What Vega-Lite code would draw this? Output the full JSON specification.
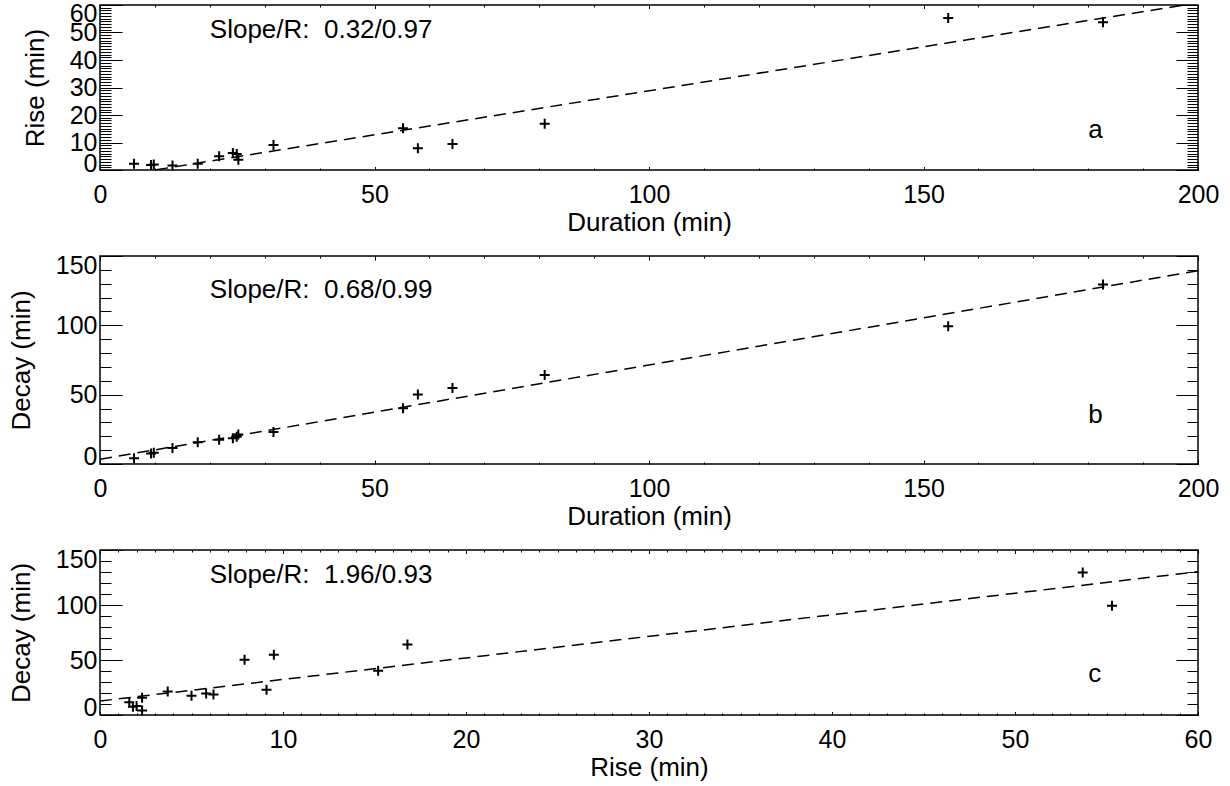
{
  "$schema": "https://vega.github.io/schema/vega-lite/v6.json",
  "background": "white",
  "padding": {"left": 7, "top": 0, "right": 0, "bottom": 0},
  "bounds": "flush",
  "spacing": 86,
  "datasets": {
    "events": [
      {"duration": 6.2, "rise": 2.3, "decay": 4.2},
      {"duration": 9.3, "rise": 1.8, "decay": 7.5},
      {"duration": 9.8, "rise": 2.0, "decay": 8.1},
      {"duration": 13.2, "rise": 1.6, "decay": 11.6},
      {"duration": 17.8, "rise": 2.3, "decay": 15.7},
      {"duration": 21.7, "rise": 5.0, "decay": 17.5},
      {"duration": 24.2, "rise": 6.2, "decay": 18.6},
      {"duration": 24.9, "rise": 5.8, "decay": 19.6},
      {"duration": 25.2, "rise": 3.7, "decay": 21.3},
      {"duration": 31.6, "rise": 9.1, "decay": 23.0},
      {"duration": 55.2, "rise": 15.2, "decay": 40.2},
      {"duration": 57.9, "rise": 7.9, "decay": 50.2},
      {"duration": 64.2, "rise": 9.5, "decay": 54.8},
      {"duration": 81.0, "rise": 16.8, "decay": 64.1},
      {"duration": 154.5, "rise": 55.3, "decay": 99.3},
      {"duration": 182.7, "rise": 53.7, "decay": 129.5}
    ],
    "fit_a": [{"x": 0, "y": -3.2}, {"x": 200, "y": 60.8}],
    "fit_b": [{"x": 0, "y": 3.4}, {"x": 200, "y": 139.4}],
    "fit_c": [{"x": 0, "y": 12.7}, {"x": 60, "y": 130.3}],
    "notes_a": [{"x": 20, "y": 47.9, "label": "Slope/R:\u00a0 0.32/0.97"}, {"x": 180, "y": 11.8, "label": "a"}],
    "notes_b": [{"x": 20, "y": 119.6, "label": "Slope/R:\u00a0 0.68/0.99"}, {"x": 180, "y": 29.7, "label": "b"}],
    "notes_c": [{"x": 6.0, "y": 119.7, "label": "Slope/R:\u00a0 1.96/0.93"}, {"x": 54.0, "y": 30, "label": "c"}]
  },
  "vconcat": [
    {
      "width": 1098,
      "height": 165,
      "resolve": {"axis": {"x": "independent", "y": "independent"}},
      "layer": [
        {
          "data": {"name": "events"},
          "mark": {"type": "point", "shape": "M-1,0H1M0,-1V1", "size": 100, "filled": false, "stroke": "black", "strokeWidth": 2, "opacity": 1},
          "encoding": {
            "x": {"field": "duration", "type": "quantitative", "scale": {"domain": [0, 200], "nice": false},
              "axis": {"orient": "bottom", "values": [0, 50, 100, 150, 200], "ticks": false, "labelFlush": false, "labelPadding": 12, "title": "Duration (min)", "titlePadding": 2}},
            "y": {"field": "rise", "type": "quantitative", "scale": {"domain": [0, 60], "nice": false},
              "axis": {"orient": "left", "values": [0, 10, 20, 30, 40, 50, 60], "ticks": false, "labelFlush": false, "labelPadding": 3, "title": "Rise (min)", "titlePadding": 21,
                "labelOffset": {"condition": [{"test": "datum.value === 0", "value": -7}, {"test": "datum.value === 60", "value": 8.5}], "value": 0}}}
          }
        },
        {
          "data": {"name": "fit_a"},
          "mark": {"type": "line", "color": "black", "strokeWidth": 1.5, "strokeDash": [12, 7], "clip": true},
          "encoding": {
            "x": {"field": "x", "type": "quantitative", "scale": {"domain": [0, 200], "nice": false},
              "axis": {"orient": "bottom", "labels": false, "title": null, "values": [0, 10, 20, 30, 40, 50, 60, 70, 80, 90, 100, 110, 120, 130, 140, 150, 160, 170, 180, 190, 200],
                "tickSize": {"condition": {"test": "datum.value % 50 === 0", "value": -3.5}, "value": -2}}},
            "y": {"field": "y", "type": "quantitative", "scale": {"domain": [0, 60], "nice": false},
              "axis": {"orient": "left", "labels": false, "title": null, "values": [0, 1, 2, 3, 4, 5, 6, 7, 8, 9, 10, 11, 12, 13, 14, 15, 16, 17, 18, 19, 20, 21, 22, 23, 24, 25, 26, 27, 28, 29, 30, 31, 32, 33, 34, 35, 36, 37, 38, 39, 40, 41, 42, 43, 44, 45, 46, 47, 48, 49, 50, 51, 52, 53, 54, 55, 56, 57, 58, 59, 60],
                "tickSize": {"condition": {"test": "datum.value % 10 === 0", "value": -22}, "value": -11}}}
          }
        },
        {
          "data": {"name": "notes_a"},
          "mark": {"type": "text", "align": "left", "baseline": "alphabetic", "fontSize": 26, "font": "Liberation Sans", "color": "black"},
          "encoding": {
            "x": {"field": "x", "type": "quantitative", "scale": {"domain": [0, 200], "nice": false},
              "axis": {"orient": "top", "labels": false, "title": null, "values": [0, 10, 20, 30, 40, 50, 60, 70, 80, 90, 100, 110, 120, 130, 140, 150, 160, 170, 180, 190, 200],
                "tickSize": {"condition": {"test": "datum.value % 50 === 0", "value": -3.5}, "value": -2}}},
            "y": {"field": "y", "type": "quantitative", "scale": {"domain": [0, 60], "nice": false},
              "axis": {"orient": "right", "labels": false, "title": null, "values": [0, 1, 2, 3, 4, 5, 6, 7, 8, 9, 10, 11, 12, 13, 14, 15, 16, 17, 18, 19, 20, 21, 22, 23, 24, 25, 26, 27, 28, 29, 30, 31, 32, 33, 34, 35, 36, 37, 38, 39, 40, 41, 42, 43, 44, 45, 46, 47, 48, 49, 50, 51, 52, 53, 54, 55, 56, 57, 58, 59, 60],
                "tickSize": {"condition": {"test": "datum.value % 10 === 0", "value": -22}, "value": -11}}},
            "text": {"field": "label"}
          }
        }
      ]
    },
    {
      "width": 1098,
      "height": 208,
      "resolve": {"axis": {"x": "independent", "y": "independent"}},
      "layer": [
        {
          "data": {"name": "events"},
          "mark": {"type": "point", "shape": "M-1,0H1M0,-1V1", "size": 100, "filled": false, "stroke": "black", "strokeWidth": 2, "opacity": 1},
          "encoding": {
            "x": {"field": "duration", "type": "quantitative", "scale": {"domain": [0, 200], "nice": false},
              "axis": {"orient": "bottom", "values": [0, 50, 100, 150, 200], "ticks": false, "labelFlush": false, "labelPadding": 12, "title": "Duration (min)", "titlePadding": 2}},
            "y": {"field": "decay", "type": "quantitative", "scale": {"domain": [0, 150], "nice": false},
              "axis": {"orient": "left", "values": [0, 50, 100, 150], "ticks": false, "labelFlush": false, "labelPadding": 3, "title": "Decay (min)", "titlePadding": 21,
                "labelOffset": {"condition": [{"test": "datum.value === 0", "value": -8}, {"test": "datum.value === 150", "value": 9}], "value": 0}}}
          }
        },
        {
          "data": {"name": "fit_b"},
          "mark": {"type": "line", "color": "black", "strokeWidth": 1.5, "strokeDash": [12, 7], "clip": true},
          "encoding": {
            "x": {"field": "x", "type": "quantitative", "scale": {"domain": [0, 200], "nice": false},
              "axis": {"orient": "bottom", "labels": false, "title": null, "values": [0, 10, 20, 30, 40, 50, 60, 70, 80, 90, 100, 110, 120, 130, 140, 150, 160, 170, 180, 190, 200],
                "tickSize": {"condition": {"test": "datum.value % 50 === 0", "value": -4}, "value": -2}}},
            "y": {"field": "y", "type": "quantitative", "scale": {"domain": [0, 150], "nice": false},
              "axis": {"orient": "left", "labels": false, "title": null, "values": [0, 10, 20, 30, 40, 50, 60, 70, 80, 90, 100, 110, 120, 130, 140, 150],
                "tickSize": {"condition": {"test": "datum.value % 50 === 0", "value": -22}, "value": -11}}}
          }
        },
        {
          "data": {"name": "notes_b"},
          "mark": {"type": "text", "align": "left", "baseline": "alphabetic", "fontSize": 26, "font": "Liberation Sans", "color": "black"},
          "encoding": {
            "x": {"field": "x", "type": "quantitative", "scale": {"domain": [0, 200], "nice": false},
              "axis": {"orient": "top", "labels": false, "title": null, "values": [0, 10, 20, 30, 40, 50, 60, 70, 80, 90, 100, 110, 120, 130, 140, 150, 160, 170, 180, 190, 200],
                "tickSize": {"condition": {"test": "datum.value % 50 === 0", "value": -4}, "value": -2}}},
            "y": {"field": "y", "type": "quantitative", "scale": {"domain": [0, 150], "nice": false},
              "axis": {"orient": "right", "labels": false, "title": null, "values": [0, 10, 20, 30, 40, 50, 60, 70, 80, 90, 100, 110, 120, 130, 140, 150],
                "tickSize": {"condition": {"test": "datum.value % 50 === 0", "value": -22}, "value": -11}}},
            "text": {"field": "label"}
          }
        }
      ]
    },
    {
      "width": 1098,
      "height": 165,
      "resolve": {"axis": {"x": "independent", "y": "independent"}},
      "layer": [
        {
          "data": {"name": "events"},
          "mark": {"type": "point", "shape": "M-1,0H1M0,-1V1", "size": 100, "filled": false, "stroke": "black", "strokeWidth": 2, "opacity": 1},
          "encoding": {
            "x": {"field": "rise", "type": "quantitative", "scale": {"domain": [0, 60], "nice": false},
              "axis": {"orient": "bottom", "values": [0, 10, 20, 30, 40, 50, 60], "ticks": false, "labelFlush": false, "labelPadding": 12, "title": "Rise (min)", "titlePadding": 2}},
            "y": {"field": "decay", "type": "quantitative", "scale": {"domain": [0, 150], "nice": false},
              "axis": {"orient": "left", "values": [0, 50, 100, 150], "ticks": false, "labelFlush": false, "labelPadding": 3, "title": "Decay (min)", "titlePadding": 21,
                "labelOffset": {"condition": [{"test": "datum.value === 0", "value": -7.5}, {"test": "datum.value === 150", "value": 9}], "value": 0}}}
          }
        },
        {
          "data": {"name": "fit_c"},
          "mark": {"type": "line", "color": "black", "strokeWidth": 1.5, "strokeDash": [12, 7], "clip": true},
          "encoding": {
            "x": {"field": "x", "type": "quantitative", "scale": {"domain": [0, 60], "nice": false},
              "axis": {"orient": "bottom", "labels": false, "title": null, "values": [0, 1, 2, 3, 4, 5, 6, 7, 8, 9, 10, 11, 12, 13, 14, 15, 16, 17, 18, 19, 20, 21, 22, 23, 24, 25, 26, 27, 28, 29, 30, 31, 32, 33, 34, 35, 36, 37, 38, 39, 40, 41, 42, 43, 44, 45, 46, 47, 48, 49, 50, 51, 52, 53, 54, 55, 56, 57, 58, 59, 60],
                "tickSize": {"condition": {"test": "datum.value % 10 === 0", "value": -3.5}, "value": -2}}},
            "y": {"field": "y", "type": "quantitative", "scale": {"domain": [0, 150], "nice": false},
              "axis": {"orient": "left", "labels": false, "title": null, "values": [0, 10, 20, 30, 40, 50, 60, 70, 80, 90, 100, 110, 120, 130, 140, 150],
                "tickSize": {"condition": {"test": "datum.value % 50 === 0", "value": -22}, "value": -11}}}
          }
        },
        {
          "data": {"name": "notes_c"},
          "mark": {"type": "text", "align": "left", "baseline": "alphabetic", "fontSize": 26, "font": "Liberation Sans", "color": "black"},
          "encoding": {
            "x": {"field": "x", "type": "quantitative", "scale": {"domain": [0, 60], "nice": false},
              "axis": {"orient": "top", "labels": false, "title": null, "values": [0, 1, 2, 3, 4, 5, 6, 7, 8, 9, 10, 11, 12, 13, 14, 15, 16, 17, 18, 19, 20, 21, 22, 23, 24, 25, 26, 27, 28, 29, 30, 31, 32, 33, 34, 35, 36, 37, 38, 39, 40, 41, 42, 43, 44, 45, 46, 47, 48, 49, 50, 51, 52, 53, 54, 55, 56, 57, 58, 59, 60],
                "tickSize": {"condition": {"test": "datum.value % 10 === 0", "value": -3.5}, "value": -2}}},
            "y": {"field": "y", "type": "quantitative", "scale": {"domain": [0, 150], "nice": false},
              "axis": {"orient": "right", "labels": false, "title": null, "values": [0, 10, 20, 30, 40, 50, 60, 70, 80, 90, 100, 110, 120, 130, 140, 150],
                "tickSize": {"condition": {"test": "datum.value % 50 === 0", "value": -22}, "value": -11}}},
            "text": {"field": "label"}
          }
        }
      ]
    }
  ],
  "config": {
    "font": "Liberation Sans",
    "view": {"stroke": "black", "strokeWidth": 1.5},
    "axis": {
      "domain": false,
      "grid": false,
      "labelOverlap": false,
      "labelFont": "Liberation Sans",
      "labelFontSize": 25,
      "labelColor": "black",
      "titleFont": "Liberation Sans",
      "titleFontSize": 26,
      "titleFontWeight": "normal",
      "titleColor": "black",
      "tickColor": "black",
      "tickWidth": 1
    }
  }
}
